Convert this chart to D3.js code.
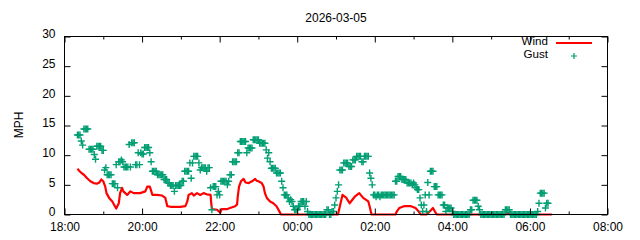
<!DOCTYPE html>
<html><head><meta charset="utf-8">
<script src="https://cdn.jsdelivr.net/npm/d3@7"></script>
<style>html,body{margin:0;padding:0;background:#fff;} svg{display:block;font-family:"Liberation Sans",Arial,sans-serif;}</style>
</head><body>
<svg id="chart" width="640" height="240"></svg>
<script>
const chartTitle = "2026-03-05";
const yLabel = "MPH";
const seriesNames = ["Wind", "Gust"];
const seriesColors = ["#ff0000", "#009e73"];
const xDomain = ["18:00", "08:00"];
const xTickLabels = ["18:00","20:00","22:00","00:00","02:00","04:00","06:00","08:00"];
const xMinorTicks = ["19:00","21:00","23:00","01:00","03:00","05:00","07:00"];
const yTicks = [0,5,10,15,20,25,30];

const windTimes = ["18:20","18:25","18:30","18:35","18:40","18:45","18:50","18:54","18:57","19:00",
"19:03","19:05","19:09","19:14","19:18","19:20","19:24","19:26","19:29","19:31",
"19:37","19:42","19:47","19:57","20:05","20:08","20:12","20:16","20:23","20:31",
"20:36","20:39","20:44","20:59","21:07","21:10","21:12","21:17","21:20","21:25",
"21:30","21:35","21:40","21:46","21:47","21:48","21:56","22:01","22:03","22:11",
"22:16","22:24","22:27","22:28","22:30","22:33","22:37","22:40","22:45","22:50",
"22:55","22:57","23:00","23:05","23:08","23:10","23:13","23:18","23:23","23:28",
"23:33","23:35","01:03","01:06","01:10","01:16","01:21","01:29","01:36","01:42",
"01:50","01:52","01:55","02:32","02:34","02:38","02:45","02:56","03:03","03:08",
"03:11","03:20","03:25","03:30","03:33","03:36","05:22","05:26","05:30","06:34"];
const windValues = [7.7,7.1,6.7,6.1,5.6,5.3,5.2,5.4,5.9,5.6,
4.7,3.6,2.8,2.2,1.4,1.0,1.9,3.6,4.5,3.9,
3.3,3.9,3.6,3.6,3.9,4.7,4.7,3.3,3.3,3.2,
2.8,1.4,1.3,1.3,1.4,2.2,3.3,3.6,3.2,3.6,
3.3,3.6,3.4,3.3,1.9,0.9,0.8,0.3,0.9,0.9,
1.1,1.4,1.7,3.0,4.7,5.6,6.0,5.4,5.3,5.6,
6.0,5.7,5.6,5.3,4.7,3.6,2.8,2.2,1.9,1.4,
0.4,0,0,1.4,3.3,2.8,1.9,3.0,3.6,2.8,
2.2,1.4,0,0,0.5,1.1,1.4,1.4,1.1,0.5,
0,0,0.5,1.1,0.5,0,0,0.3,0,0];

const gustStart = "18:20";
const gustStepMinutes = 2;
const gustValues = [
13.4,13.4,13.4,12.4,11.7,14.4,14.4,14.4,14.4,11.0,
11.0,11.0,11.0,10.1,9.3,11.5,11.5,11.5,11.5,10.8,
10.8,7.5,7.9,6.7,6.7,6.7,6.7,5.2,5.2,5.2,
8.4,4.5,8.9,8.9,9.2,8.9,8.0,8.0,8.0,8.0,
11.8,8.0,12.1,12.1,12.1,8.4,8.4,10.4,8.4,10.4,
10.2,10.2,11.3,11.3,11.3,11.3,10.4,8.9,7.3,7.3,
7.3,7.3,6.7,6.7,6.7,6.7,6.7,5.9,5.9,5.9,
5.3,5.3,4.9,4.9,4.9,3.9,4.9,4.9,4.9,4.9,
4.9,5.6,5.6,7.3,7.3,7.3,7.3,8.7,6.1,8.7,
9.8,9.8,9.8,9.8,8.7,7.5,7.9,7.9,7.9,7.9,
7.3,7.9,7.9,4.5,0.8,4.7,4.7,4.7,3.3,3.9,
3.3,5.6,5.6,5.6,5.6,5.6,5.0,5.6,6.7,6.7,
8.9,8.9,8.9,8.9,10.4,10.4,12.3,12.3,12.3,12.3,
12.3,10.4,11.2,11.2,11.2,11.2,12.6,12.6,12.6,12.6,
12.6,12.0,12.0,12.0,12.0,12.0,10.9,9.5,10.4,8.9,
7.8,7.8,7.8,7.8,7.0,7.0,7.0,7.0,5.6,4.5,
3.3,3.3,3.3,2.8,2.2,2.5,2.2,1.4,0.8,0.8,
0.8,1.4,1.4,2.2,2.2,2.2,1.4,2.2,0.5,0,
0,0,0,0,0,0,0,0,0,0,
0,0,0,0.8,0.8,0,0,0.5,0.5,1.6,
2.8,3.9,5.0,7.5,7.5,7.5,8.7,8.7,8.7,8.7,
8.1,8.1,8.1,9.2,9.2,9.2,9.8,9.8,9.8,9.8,
8.9,8.9,9.8,9.8,9.8,9.8,7.0,6.1,5.0,3.3,
3.3,3.0,3.3,3.3,3.0,3.3,3.3,3.3,3.3,3.3,
3.3,3.3,3.3,3.3,3.3,3.3,5.6,5.6,6.4,6.4,
6.4,5.9,5.9,5.9,5.9,5.3,5.3,5.3,5.3,5.0,
5.3,5.0,4.5,4.2,4.2,2.8,1.6,0.5,1.6,3.3,
0.5,5.4,3.3,7.3,7.3,7.3,4.7,4.7,4.7,3.3,
3.3,3.3,3.3,1.6,1.6,0.5,1.1,1.1,1.1,1.1,
0.5,0,0,0,0,0,0,0,0,0,
0,0,0,0,0.8,0.8,2.4,2.4,2.4,2.4,
1.4,0.8,0,0,0,0,0,0,0,0,
0,0,0,0,0,0,0,0,0,0,
0,0.8,0.8,0.8,0.8,0,0,0,0,0,
0,0,0,0,0,0,0,0,0,0,
0,0,0,0,0,0,0.5,1.9,3.6,3.6,
3.6,3.6,1.1,1.9,1.9];

(function () {
function toDate(hhmm) {
  const [h, m] = hhmm.split(":").map(Number);
  const day = h >= 12 ? 5 : 6;
  return new Date(Date.UTC(2026, 2, day, h, m));
}
const wind = windTimes.map((t, i) => ({ t: toDate(t), v: windValues[i] }));
const g0 = toDate(gustStart);
const gust = gustValues.map((v, i) => ({ t: d3.utcMinute.offset(g0, i * gustStepMinutes), v }));

const pl = 64.5, pr = 607.5, pt = 36.5, pb = 214.5;
const svg = d3.select("#chart");

const x = d3.scaleUtc().domain(xDomain.map(toDate)).range([pl, pr]);
const y = d3.scaleLinear().domain([0, 30]).range([pb, pt]);

svg.append("text").attr("x", (pl + pr) / 2).attr("y", 21.5)
  .attr("text-anchor", "middle").attr("font-size", 12).text(chartTitle);

svg.append("text").attr("transform", "translate(23,125) rotate(-90)")
  .attr("text-anchor", "middle").attr("font-size", 12).text(yLabel);

svg.append("path").datum(wind)
  .attr("fill", "none").attr("stroke", seriesColors[0]).attr("stroke-width", 2.2)
  .attr("stroke-linejoin", "round")
  .attr("d", d3.line().x(d => x(d.t)).y(d => y(d.v)));

const cross = "M-3.5,0H3.5M0,-3.5V3.5";
svg.append("g").selectAll("path").data(gust).join("path")
  .attr("transform", d => `translate(${x(d.t)},${y(d.v)})`)
  .attr("d", cross).attr("stroke", seriesColors[1]).attr("stroke-width", 1.4).attr("fill", "none");

const legend = svg.append("g");
seriesNames.forEach((name, i) => {
  const ly = 41 + i * 13;
  legend.append("text").attr("x", 548).attr("y", ly + 4).attr("text-anchor", "end")
    .attr("font-size", 11.6).text(name);
  if (i === 0) {
    legend.append("line").attr("x1", 556).attr("x2", 592).attr("y1", ly + 2).attr("y2", ly + 2)
      .attr("stroke", seriesColors[0]).attr("stroke-width", 2.2);
  } else {
    legend.append("path").attr("transform", `translate(574,${ly + 2})`).attr("d", "M-3,0H3M0,-3V3")
      .attr("stroke", seriesColors[1]).attr("stroke-width", 1.2).attr("fill", "none");
  }
});

const fmt = d3.utcFormat("%H:%M");
const xb = d3.axisBottom(x).tickValues(xTickLabels.map(toDate)).tickFormat(fmt).tickSize(-6).tickPadding(7.5);
svg.append("g").attr("transform", `translate(0,${pb})`).call(xb);
const xbm = d3.axisBottom(x).tickValues(xMinorTicks.map(toDate)).tickFormat("").tickSize(-3);
svg.append("g").attr("transform", `translate(0,${pb})`).call(xbm);
const xt = d3.axisTop(x).tickValues(xTickLabels.map(toDate)).tickFormat("").tickSize(-6);
svg.append("g").attr("transform", `translate(0,${pt})`).call(xt);
const xtm = d3.axisTop(x).tickValues(xMinorTicks.map(toDate)).tickFormat("").tickSize(-3);
svg.append("g").attr("transform", `translate(0,${pt})`).call(xtm);
const yl = d3.axisLeft(y).tickValues(yTicks).tickSize(-6).tickPadding(9);
const gy = svg.append("g").attr("transform", `translate(${pl},0)`).call(yl);
const yr = d3.axisRight(y).tickValues(yTicks).tickFormat("").tickSize(-6);
svg.append("g").attr("transform", `translate(${pr},0)`).call(yr);

svg.selectAll(".domain").remove();
svg.selectAll(".tick line").attr("stroke", "#000");
svg.selectAll(".tick text").attr("fill", "#000").attr("font-size", 12)
  .attr("font-family", '"Liberation Sans",Arial,sans-serif');
gy.selectAll(".tick text").attr("dy", "0.12em");

svg.append("rect").attr("x", pl).attr("y", pt).attr("width", pr - pl).attr("height", pb - pt)
  .attr("fill", "none").attr("stroke", "#000").attr("stroke-width", 1);
})();
</script>
</body></html>
